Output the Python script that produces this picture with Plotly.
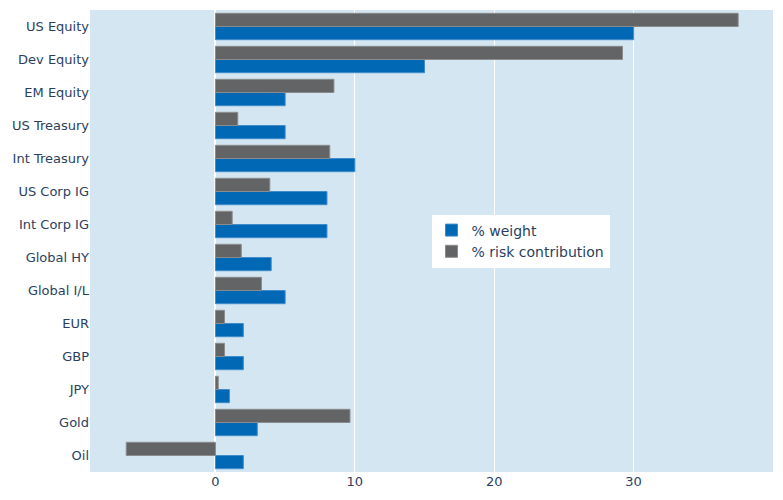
import plotly.graph_objects as go

categories = ["US Equity", "Dev Equity", "EM Equity", "US Treasury", "Int Treasury",
              "US Corp IG", "Int Corp IG", "Global HY", "Global I/L", "EUR", "GBP",
              "JPY", "Gold", "Oil"]
weight = [30, 15, 5, 5, 10, 8, 8, 4, 5, 2, 2, 1, 3, 2]
risk = [37.5, 29.2, 8.5, 1.6, 8.2, 3.9, 1.2, 1.85, 3.3, 0.65, 0.65, 0.2, 9.65, -6.4]

cats = categories[::-1]
w = weight[::-1]
r = risk[::-1]

fig = go.Figure()
fig.add_trace(go.Bar(y=cats, x=w, orientation="h", name="% weight",
                     marker=dict(color="#0068b5", line=dict(color="#3f8ccb", width=1))))
fig.add_trace(go.Bar(y=cats, x=r, orientation="h", name="% risk contribution",
                     marker=dict(color="#636466", line=dict(color="#8a8b8d", width=1))))

fig.update_layout(
    template="plotly",
    width=767, height=484,
    margin=dict(l=82, r=2, t=2, b=20, autoexpand=False),
    plot_bgcolor="#d4e6f2",
    paper_bgcolor="white",
    barmode="group",
    bargap=0.2,
    font=dict(family="DejaVu Sans, sans-serif", size=13, color="#2a3f5f"),
    legend=dict(x=0.5, y=0.5, xanchor="left", yanchor="middle", bgcolor="white",
                font=dict(size=14)),
    xaxis=dict(range=[-9, 40], gridcolor="white", zerolinecolor="white", zerolinewidth=2,
               tickvals=[0, 10, 20, 30], automargin=False),
    yaxis=dict(gridcolor="white", showgrid=False, automargin=False),
)

fig.write_html("out.html")
